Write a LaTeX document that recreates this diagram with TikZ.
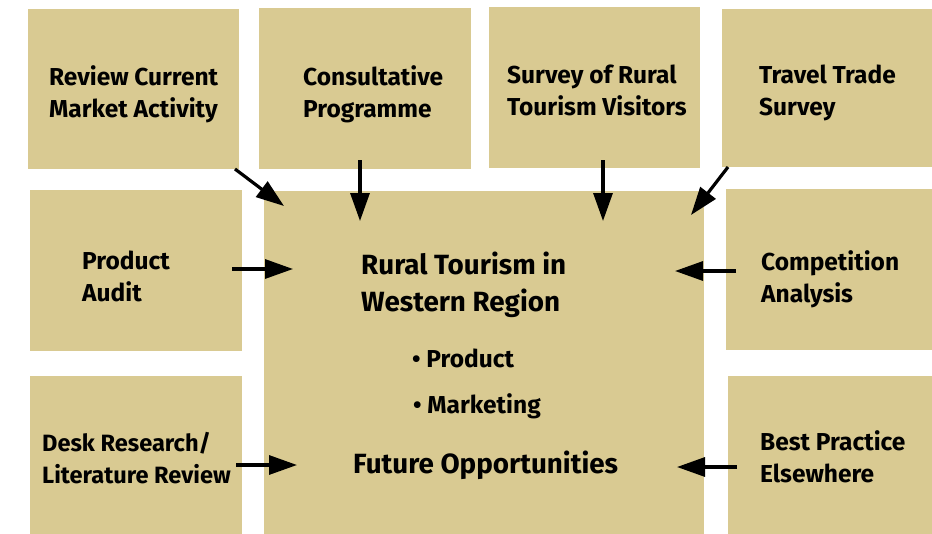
\documentclass[tikz,border=0pt]{standalone}
\usepackage{fontspec}
\setmainfont{Fira Sans}
\usetikzlibrary{arrows.meta}
\definecolor{sand}{RGB}{217,202,146}
\begin{document}
\begin{tikzpicture}[x=1pt,y=-1pt,
  box/.style={fill=sand,draw=none,inner sep=0pt,anchor=north west},
  lbl/.style={anchor=base west,align=left,inner sep=0pt,font=\bfseries\fontsize{24.5}{32}\selectfont},
  mainlbl/.style={anchor=base west,align=left,inner sep=0pt,font=\bfseries\fontsize{27.8}{37}\selectfont},
  feed/.style={line width=3.2pt,-{Triangle[length=28pt,width=19pt]}}]
\useasboundingbox (0,0) rectangle (932,533);
% source boxes and the central box
\node[box,minimum width=211pt,minimum height=160pt] (review)  at (28,9)   {};
\node[box,minimum width=212pt,minimum height=161pt] (consult) at (259,8)  {};
\node[box,minimum width=211pt,minimum height=161pt] (survey)  at (489,7)  {};
\node[box,minimum width=211pt,minimum height=158pt] (travel)  at (722,9)  {};
\node[box,minimum width=212pt,minimum height=161pt] (audit)   at (30,190) {};
\node[box,minimum width=440pt,minimum height=343pt] (centre)  at (264,191) {};
\node[box,minimum width=207pt,minimum height=161pt] (comp)    at (726,189) {};
\node[box,minimum width=212pt,minimum height=158pt] (desk)    at (30,376) {};
\node[box,minimum width=205pt,minimum height=158pt] (best)    at (728,376) {};
% box texts (anchored on the baseline of the last line)
\node[lbl] (reviewT)  at (49,117)  {Review Current\\Market Activity};
\node[lbl] (consultT) at (303,117) {Consultative\\Programme};
\node[lbl] (surveyT)  at (507,115) {Survey of Rural\\Tourism Visitors};
\node[lbl] (travelT)  at (759,115) {Travel Trade\\Survey};
\node[lbl] (auditT)   at (82,301)  {Product\\Audit};
\node[lbl] (compT)    at (761,302) {Competition\\Analysis};
\node[lbl,font=\bfseries\fontsize{23.6}{31.5}\selectfont] (deskT) at (42,483) {Desk Research/\\Literature Review};
\node[lbl] (bestT)    at (760,482) {Best Practice\\Elsewhere};
\node[mainlbl] (titleT) at (361,311) {Rural Tourism in\\Western Region};
\node[lbl] (prodT)    at (412,367) {\textbullet\ Product};
\node[lbl] (mktT)     at (413,413) {\textbullet\ Marketing};
\node[mainlbl] (futT) at (353,473) {Future Opportunities};
% arrow end points
\coordinate (reviewS) at (235,169); \coordinate (reviewE) at (284,206);
\coordinate (consultS) at (360,160); \coordinate (consultE) at (360,221);
\coordinate (surveyS) at (603,160); \coordinate (surveyE) at (603,221);
\coordinate (travelS) at (728,167); \coordinate (travelE) at (691,215);
\coordinate (auditS) at (232,269); \coordinate (auditE) at (293,269);
\coordinate (deskS) at (236,465); \coordinate (deskE) at (297,465);
\coordinate (compS) at (736,271); \coordinate (compE) at (675,271);
\coordinate (bestS) at (737,467); \coordinate (bestE) at (677,467);
% arrows feeding the central box
\draw[feed] (reviewS) -- (reviewE);
\draw[feed] (consultS) -- (consultE);
\draw[feed] (surveyS) -- (surveyE);
\draw[feed] (travelS) -- (travelE);
\draw[feed] (auditS) -- (auditE);
\draw[feed] (deskS) -- (deskE);
\draw[feed] (compS) -- (compE);
\draw[feed] (bestS) -- (bestE);
\end{tikzpicture}
\end{document}
